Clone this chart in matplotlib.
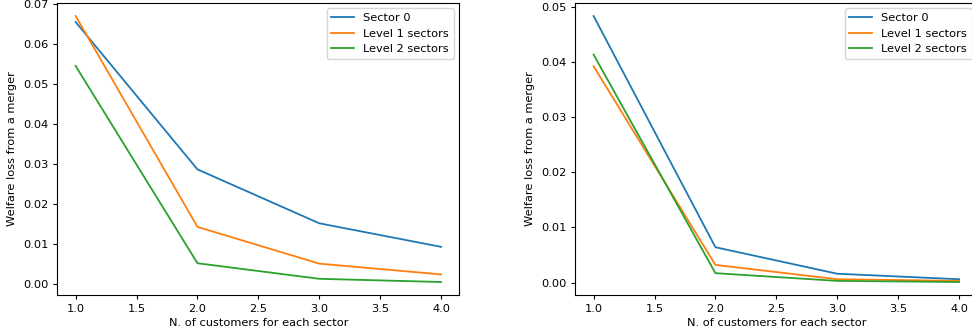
import matplotlib
matplotlib.use("Agg")
import matplotlib.pyplot as plt

customers = [1.0, 2.0, 3.0, 4.0]
labels = ["Sector 0", "Level 1 sectors", "Level 2 sectors"]

# left panel
left_sector0 = [0.0656, 0.0287, 0.0152, 0.0093]
left_level1 = [0.0671, 0.0143, 0.0051, 0.0024]
left_level2 = [0.0546, 0.0052, 0.0013, 0.0005]

# right panel
right_sector0 = [0.0483, 0.0064, 0.0016, 0.0006]
right_level1 = [0.0392, 0.0032, 0.0006, 0.0003]
right_level2 = [0.0413, 0.0017, 0.0003, 0.0001]

plt.rcParams['font.size'] = 8.2
plt.rcParams['xtick.major.size'] = 3
plt.rcParams['ytick.major.size'] = 3

fig = plt.figure(figsize=(9.72, 3.35), dpi=100)
ax1 = fig.add_axes([0.0590, 0.1185, 0.4136, 0.8734])
ax2 = fig.add_axes([0.5919, 0.1185, 0.4136, 0.8734])

for ax, series in ((ax1, (left_sector0, left_level1, left_level2)),
                   (ax2, (right_sector0, right_level1, right_level2))):
    for vals, lab in zip(series, labels):
        ax.plot(customers, vals, label=lab, lw=1.3)
    ax.set_xlabel("N. of customers for each sector", labelpad=3)
    ax.set_ylabel("Welfare loss from a merger")
    ax.legend(loc="upper right")

fig.savefig("out.png", dpi=100)
